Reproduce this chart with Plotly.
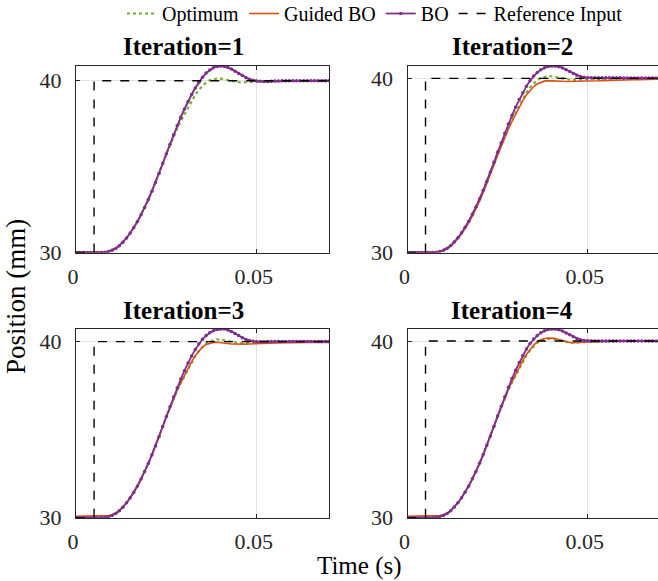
import plotly.graph_objects as go

# ---------------- data (time grid in seconds, 1 ms samples) ----------------
TIME = [i / 1000 for i in range(71)]

REF_T = [0.0, 0.005, 0.005, 0.07]
REF_Y = [30.0, 30.0, 40.0, 40.0]

OPTIMUM = [30.0, 30.0, 30.0, 30.0, 30.0, 30.0, 30.0, 30.0, 30.02, 30.06,
           30.13, 30.24, 30.4, 30.6, 30.85, 31.13, 31.45, 31.8, 32.2, 32.62,
           33.08, 33.57, 34.08, 34.62, 35.18, 35.73, 36.27, 36.78, 37.24, 37.65,
           38.05, 38.45, 38.83, 39.18, 39.48, 39.72, 39.9, 40.03, 40.1, 40.13,
           40.12, 40.08, 40.03, 39.98, 39.94, 39.92, 39.91, 39.91, 39.92, 39.93,
           39.94, 39.95, 39.96, 39.97, 39.98, 39.98, 39.99, 40.0, 40.0, 40.0,
           40.0, 40.0, 40.0, 40.0, 40.0, 40.0, 40.0, 40.0, 40.0, 40.0, 40.0]

BO_1 = [30.0, 30.0, 30.0, 30.0, 30.0, 30.0, 30.0, 30.0, 30.02, 30.06,
        30.13, 30.24, 30.4, 30.6, 30.85, 31.13, 31.45, 31.8, 32.2, 32.62,
        33.08, 33.57, 34.08, 34.62, 35.18, 35.75, 36.3, 36.85, 37.38, 37.88,
        38.35, 38.8, 39.2, 39.58, 39.92, 40.2, 40.45, 40.63, 40.76, 40.83,
        40.86, 40.84, 40.78, 40.68, 40.56, 40.43, 40.3, 40.18, 40.09, 40.03,
        39.99, 39.97, 39.96, 39.96, 39.97, 39.98, 39.99, 40.0, 40.0, 40.0,
        40.0, 40.0, 40.0, 40.0, 40.0, 40.0, 40.0, 40.0, 40.0, 40.0, 40.0]

GUIDED_1 = list(BO_1)

BO_2 = [30.0, 30.0, 30.0, 30.0, 30.0, 30.0, 30.0, 30.0, 30.02, 30.06,
        30.13, 30.24, 30.4, 30.6, 30.85, 31.13, 31.45, 31.8, 32.2, 32.62,
        33.08, 33.57, 34.08, 34.62, 35.18, 35.75, 36.3, 36.85, 37.38, 37.88,
        38.35, 38.78, 39.18, 39.55, 39.87, 40.13, 40.34, 40.5, 40.61, 40.68,
        40.71, 40.71, 40.67, 40.6, 40.5, 40.39, 40.28, 40.18, 40.11, 40.06,
        40.04, 40.03, 40.03, 40.03, 40.03, 40.03, 40.03, 40.03, 40.03, 40.03,
        40.02, 40.02, 40.02, 40.02, 40.02, 40.02, 40.02, 40.02, 40.02, 40.02, 40.02]

GUIDED_2 = [30.0, 30.0, 30.0, 30.0, 30.0, 30.0, 30.0, 30.0, 30.02, 30.05,
            30.11, 30.21, 30.36, 30.55, 30.79, 31.06, 31.37, 31.71, 32.09, 32.5,
            32.95, 33.43, 34.0, 34.5, 35.03, 35.57, 36.1, 36.6, 37.08, 37.53,
            37.95, 38.35, 38.72, 39.05, 39.32, 39.53, 39.68, 39.78, 39.84, 39.87,
            39.87, 39.86, 39.84, 39.83, 39.82, 39.82, 39.82, 39.82, 39.82, 39.82,
            39.83, 39.84, 39.85, 39.86, 39.87, 39.88, 39.88, 39.89, 39.89, 39.9,
            39.9, 39.91, 39.91, 39.92, 39.92, 39.93, 39.93, 39.94, 39.94, 39.95, 39.95]

BO_3 = [30.0, 30.0, 30.0, 30.0, 30.0, 30.0, 30.0, 30.0, 30.02, 30.06,
        30.13, 30.24, 30.4, 30.6, 30.85, 31.13, 31.45, 31.8, 32.2, 32.62,
        33.08, 33.57, 34.08, 34.62, 35.18, 35.75, 36.3, 36.85, 37.38, 37.88,
        38.35, 38.79, 39.19, 39.56, 39.88, 40.14, 40.35, 40.51, 40.62, 40.69,
        40.72, 40.72, 40.67, 40.58, 40.47, 40.35, 40.23, 40.13, 40.06, 40.02,
        40.0, 40.0, 40.0, 40.01, 40.01, 40.01, 40.01, 40.01, 40.01, 40.01,
        40.01, 40.01, 40.01, 40.01, 40.01, 40.01, 40.01, 40.01, 40.01, 40.01, 40.01]

GUIDED_3 = [30.08, 30.08, 30.08, 30.08, 30.08, 30.08, 30.08, 30.08, 30.09, 30.12,
            30.17, 30.26, 30.4, 30.6, 30.85, 31.13, 31.45, 31.8, 32.2, 32.62,
            33.08, 33.57, 34.08, 34.62, 35.18, 35.73, 36.27, 36.78, 37.25, 37.68,
            38.1, 38.5, 38.87, 39.2, 39.48, 39.7, 39.84, 39.92, 39.96, 39.97,
            39.96, 39.93, 39.9, 39.87, 39.86, 39.85, 39.85, 39.86, 39.87, 39.88,
            39.9, 39.91, 39.92, 39.92, 39.93, 39.93, 39.94, 39.94, 39.94, 39.94,
            39.95, 39.95, 39.95, 39.95, 39.95, 39.95, 39.95, 39.95, 39.95, 39.95, 39.95]

BO_4 = [30.0, 30.0, 30.0, 30.0, 30.0, 30.0, 30.0, 30.0, 30.02, 30.06,
        30.13, 30.24, 30.4, 30.6, 30.85, 31.13, 31.45, 31.8, 32.2, 32.62,
        33.08, 33.57, 34.08, 34.62, 35.18, 35.75, 36.3, 36.85, 37.38, 37.88,
        38.35, 38.78, 39.18, 39.55, 39.86, 40.11, 40.31, 40.47, 40.58, 40.65,
        40.68, 40.68, 40.64, 40.56, 40.46, 40.35, 40.24, 40.14, 40.07, 40.03,
        40.01, 40.0, 40.0, 40.0, 40.0, 40.0, 40.0, 40.0, 40.0, 40.0,
        40.0, 40.0, 40.0, 40.0, 40.0, 40.0, 40.0, 40.0, 40.0, 40.0, 40.0]

GUIDED_4 = [30.08, 30.08, 30.08, 30.08, 30.08, 30.08, 30.08, 30.08, 30.09, 30.12,
            30.17, 30.26, 30.4, 30.6, 30.85, 31.13, 31.45, 31.8, 32.2, 32.62,
            33.08, 33.57, 34.08, 34.62, 35.18, 35.73, 36.27, 36.8, 37.27, 37.7,
            38.12, 38.52, 38.9, 39.24, 39.53, 39.77, 39.95, 40.07, 40.14, 40.17,
            40.17, 40.14, 40.08, 40.02, 39.96, 39.92, 39.9, 39.9, 39.91, 39.93,
            39.95, 39.96, 39.97, 39.98, 39.99, 40.0, 40.0, 40.0, 40.0, 40.0,
            40.0, 40.0, 40.0, 40.0, 40.0, 40.0, 40.0, 40.0, 40.0, 40.0, 40.0]

PANEL_TITLES = ["Iteration=1", "Iteration=2", "Iteration=3", "Iteration=4"]
BO_SERIES = [BO_1, BO_2, BO_3, BO_4]
GUIDED_SERIES = [GUIDED_1, GUIDED_2, GUIDED_3, GUIDED_4]
X_TICKS = [0, 0.05]
X_TICKTEXT = ["0", "0.05"]
Y_TICKS = [30, 40]
Y_TICKTEXT = ["30", "40"]

# ---------------- styling / layout ----------------
W, H = 658, 581
FONT = "Liberation Serif, Times New Roman, Times, serif"
GREEN, ORANGE, PURPLE = "#77AC30", "#D95319", "#7E2F8E"

# pixel boxes (left, right, top, bottom)
boxes = [
    (76, 329, 66, 252.5),
    (407.5, 658, 66, 252.5),
    (76, 329, 329, 517.7),
    (407.5, 658, 329, 517.7),
]
x_max = [0.07, 0.0695, 0.07, 0.0695]

fig = go.Figure()
for i in range(4):
    xa = "x" if i == 0 else f"x{i+1}"
    ya = "y" if i == 0 else f"y{i+1}"
    show = i == 0
    fig.add_trace(go.Scatter(x=TIME, y=OPTIMUM, mode="lines", name="Optimum",
                             line=dict(color=GREEN, width=2.2, dash="dot"),
                             xaxis=xa, yaxis=ya, showlegend=show, legendrank=1))
    fig.add_trace(go.Scatter(x=TIME, y=GUIDED_SERIES[i], mode="lines", name="Guided BO",
                             line=dict(color=ORANGE, width=1.6),
                             xaxis=xa, yaxis=ya, showlegend=show, legendrank=2))
    fig.add_trace(go.Scatter(x=TIME, y=BO_SERIES[i], mode="lines+markers", name="BO",
                             line=dict(color=PURPLE, width=1.8),
                             marker=dict(color=PURPLE, size=3.5),
                             xaxis=xa, yaxis=ya, showlegend=show, legendrank=3))
    fig.add_trace(go.Scatter(x=REF_T, y=REF_Y, mode="lines", name="Reference Input",
                             line=dict(color="black", width=1.4, dash="dash"),
                             xaxis=xa, yaxis=ya, showlegend=show, legendrank=4))

TICKFONT = dict(family=FONT, size=22, color="#262626")
layout = {}
for i, (l, r, t, b) in enumerate(boxes):
    xkey = "xaxis" if i == 0 else f"xaxis{i+1}"
    ykey = "yaxis" if i == 0 else f"yaxis{i+1}"
    ya = "y" if i == 0 else f"y{i+1}"
    xa = "x" if i == 0 else f"x{i+1}"
    ytop = max(BO_SERIES[i])
    layout[xkey] = dict(domain=[l / W, r / W], range=[0, x_max[i]], anchor=ya,
                        tickvals=X_TICKS, ticktext=X_TICKTEXT, ticks="inside", ticklen=4,
                        tickcolor="#262626", showline=True, linecolor="#262626", linewidth=1,
                        mirror="allticks", showgrid=True, gridcolor="#e3e3e3", gridwidth=1,
                        zeroline=False, ticklabelstandoff=4, ticklabelshift=-3,
                        tickfont=TICKFONT)
    layout[ykey] = dict(domain=[1 - b / H, 1 - t / H], range=[30, ytop], anchor=xa,
                        tickvals=Y_TICKS, ticktext=Y_TICKTEXT, ticks="inside", ticklen=4,
                        tickcolor="#262626", showline=True, linecolor="#262626", linewidth=1,
                        mirror="allticks", showgrid=True, gridcolor="#e3e3e3", gridwidth=1,
                        zeroline=False, ticklabelstandoff=9, tickfont=TICKFONT)

title_pos = [(183, 46), (512, 46), (183, 310), (512, 310)]
annotations = []
for (cx, cy), txt in zip(title_pos, PANEL_TITLES):
    annotations.append(dict(text=f"<b>{txt}</b>", x=cx / W, y=1 - cy / H, xref="paper",
                            yref="paper", showarrow=False, xanchor="center", yanchor="middle",
                            font=dict(family=FONT, size=25, color="black")))
annotations.append(dict(text="Time (s)", x=359 / W, y=1 - 566 / H, xref="paper", yref="paper",
                        showarrow=False, xanchor="center", yanchor="middle",
                        font=dict(family=FONT, size=25, color="black")))
annotations.append(dict(text="Position (mm)", x=16 / W, y=1 - 297 / H, xref="paper",
                        yref="paper", showarrow=False, xanchor="center", yanchor="middle",
                        textangle=-90, font=dict(family=FONT, size=27, color="black")))

fig.update_layout(
    width=W, height=H, margin=dict(l=0, r=0, t=0, b=0, autoexpand=False),
    paper_bgcolor="white", plot_bgcolor="white",
    showlegend=True,
    legend=dict(orientation="h", x=122 / W, y=1 + 6 / H, xanchor="left", yanchor="top",
                font=dict(family=FONT, size=20, color="black"), itemwidth=30,
                tracegroupgap=0, bgcolor="rgba(0,0,0,0)", traceorder="normal"),
    annotations=annotations,
    **layout,
)

fig.write_html("out.html")
